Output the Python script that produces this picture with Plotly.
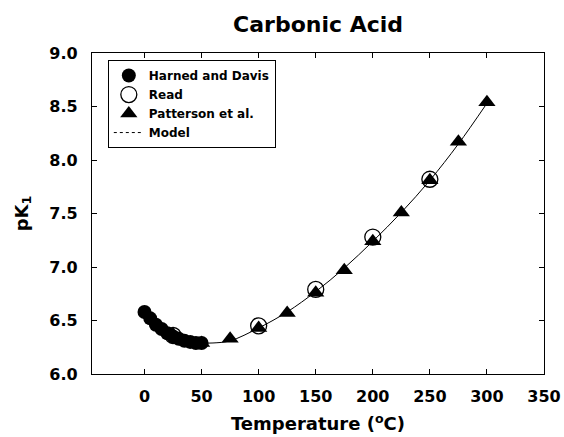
import plotly.graph_objects as go

# Harned and Davis (filled circles)
hd_t = [0, 5, 10, 15, 20, 25, 30, 35, 40, 45, 50]
hd_pk = [6.58, 6.52, 6.46, 6.42, 6.38, 6.35, 6.33, 6.31, 6.30, 6.29, 6.29]

# Read (open circles)
read_t = [25, 100, 150, 200, 250]
read_pk = [6.36, 6.45, 6.79, 7.28, 7.82]

# Patterson et al. (filled triangles)
pat_t = [25, 50, 75, 100, 125, 150, 175, 200, 225, 250, 275, 300]
pat_pk = [6.37, 6.29, 6.33, 6.43, 6.57, 6.76, 6.97, 7.24, 7.51, 7.81, 8.17, 8.54]

# Model curve
mod_t = [0, 10, 20, 30, 40, 50, 60, 75, 100, 125, 150, 175, 200, 225, 250, 275, 300]
mod_pk = [6.58, 6.46, 6.38, 6.33, 6.30, 6.29, 6.29, 6.31, 6.43, 6.58, 6.77, 6.99, 7.24, 7.51, 7.81, 8.15, 8.53]

FONT = "DejaVu Sans, sans-serif"

fig = go.Figure()
fig.add_trace(go.Scatter(
    x=mod_t, y=mod_pk, mode="lines", name="Model",
    line=dict(color="black", width=1, shape="spline"), showlegend=False))
fig.add_trace(go.Scatter(
    x=hd_t, y=hd_pk, mode="markers", name="Harned and Davis",
    marker=dict(symbol="circle", size=14, color="black")))
fig.add_trace(go.Scatter(
    x=read_t, y=read_pk, mode="markers", name="Read",
    marker=dict(symbol="circle-open", size=16, color="black", line=dict(width=1.3))))
fig.add_trace(go.Scatter(
    x=pat_t, y=pat_pk, mode="markers", name="Patterson et al.",
    marker=dict(symbol="triangle-up", size=15, color="black")))
# legend entry for the model line
fig.add_trace(go.Scatter(
    x=[None], y=[None], mode="lines", name="Model",
    line=dict(color="black", width=1, dash="dot")))

axis_common = dict(
    showgrid=False, zeroline=False, showline=True, linecolor="black", linewidth=1.2,
    mirror="allticks", ticks="inside", ticklen=5, tickcolor="black", automargin=False,
    tickfont=dict(family=FONT, size=16, color="black", weight="bold"),
)

fig.update_layout(
    width=564, height=437,
    margin=dict(l=92, r=20, t=53, b=63),
    paper_bgcolor="white", plot_bgcolor="white",
    font=dict(family=FONT, color="black"),
    title=dict(text="Carbonic Acid", x=0.564, xanchor="center", y=0.945, yanchor="middle",
               font=dict(family=FONT, size=22, color="black", weight="bold")),
    xaxis=dict(range=[-46, 350], tick0=0, dtick=50, ticklabelstandoff=8, **axis_common,
               title=dict(text="Temperature (<sup>o</sup>C)", standoff=12,
                          font=dict(family=FONT, size=18, color="black", weight="bold"))),
    yaxis=dict(range=[6, 9], dtick=0.5, tickformat=".1f", ticklabelstandoff=10, **axis_common,
               title=dict(text="pK<sub>1</sub>", standoff=16,
                          font=dict(family=FONT, size=18, color="black", weight="bold"))),
    legend=dict(x=0.035, y=0.978, xanchor="left", yanchor="top",
                bordercolor="black", borderwidth=1, bgcolor="white",
                font=dict(family=FONT, size=12, color="black", weight="bold"),
                tracegroupgap=0, itemwidth=30),
)

fig.write_html("out.html")
